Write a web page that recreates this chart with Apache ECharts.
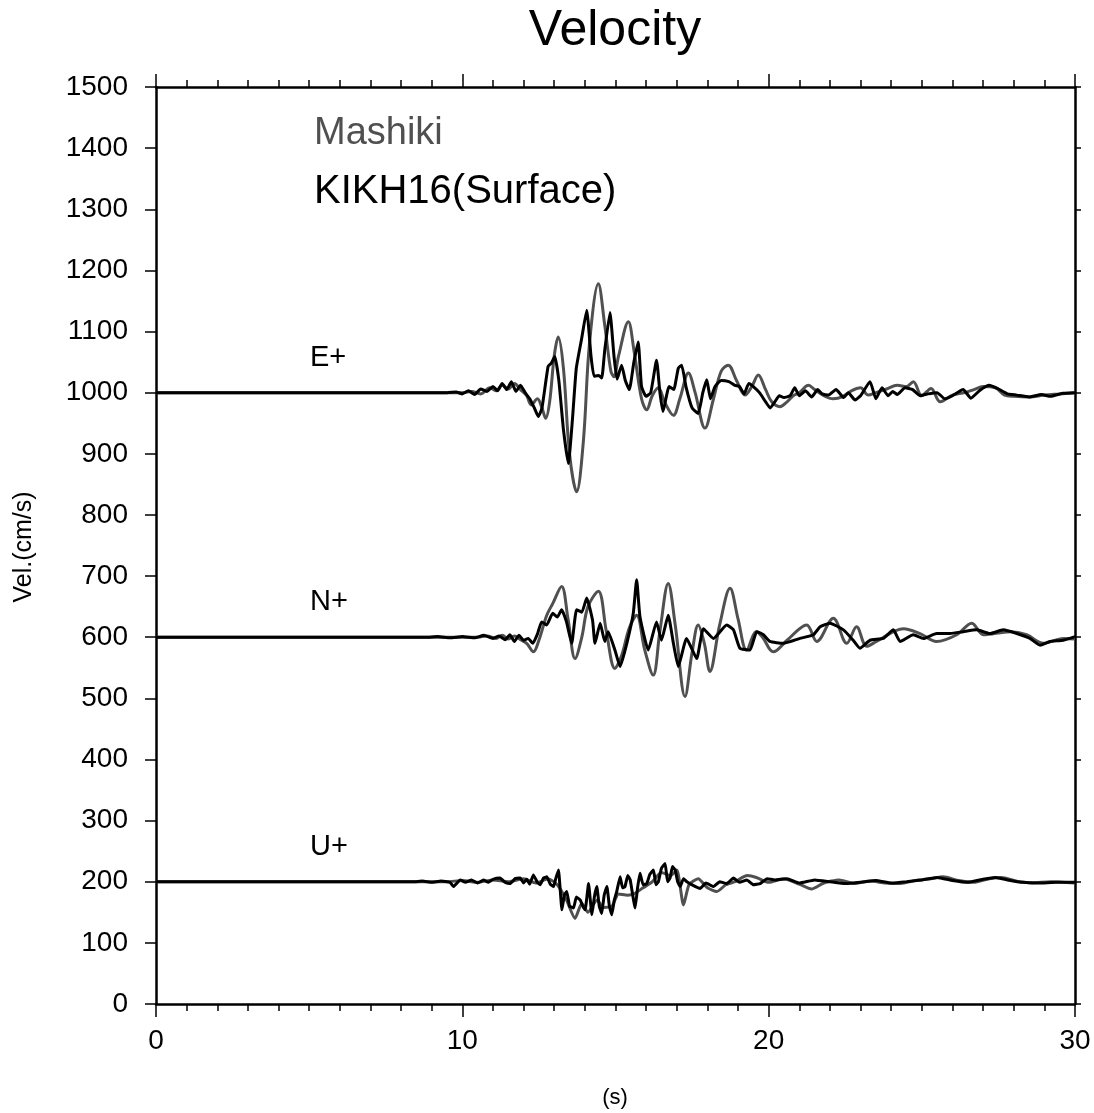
<!DOCTYPE html>
<html>
<head>
<meta charset="utf-8">
<script src="https://cdn.jsdelivr.net/npm/echarts@6/dist/echarts.min.js"></script>
<style>html,body{margin:0;padding:0;background:#fff;}#c{width:1094px;height:1113px;}</style>
</head>
<body>
<div id="c"></div>
<script>
// Time axis (s) and velocity axis (cm/s)
const X_TICKS = [0, 10, 20, 30];
const Y_TICKS = [0,100,200,300,400,500,600,700,800,900,1000,1100,1200,1300,1400,1500];
const COMPONENT_LABELS = [["E+", 1000], ["N+", 600], ["U+", 200]];
const STATIONS = ["Mashiki", "KIKH16(Surface)"];

// E component (offset +1000)
const E_MASHIKI = [[0,1000],[10.0,1000],[10.3,1002],[10.6,998],[10.9,1008],[11.1,1003],[11.3,1012],[11.5,1006],[11.7,1015],[11.9,1005],[12.1,995],[12.25,980],[12.45,990],[12.6,975],[12.72,958],[12.85,985],[13.0,1060],[13.13,1091],[13.3,1040],[13.5,900],[13.73,838],[13.95,920],[14.15,1080],[14.44,1178],[14.65,1110],[14.85,1035],[14.95,1026],[15.1,1060],[15.42,1116],[15.6,1070],[15.85,990],[16.02,972],[16.2,995],[16.4,1008],[16.6,985],[16.89,963],[17.1,990],[17.38,1032],[17.6,1000],[17.92,942],[18.2,990],[18.45,1035],[18.68,1045],[18.95,1020],[19.23,996],[19.45,1010],[19.66,1029],[19.9,1005],[20.1,985],[20.37,977],[20.6,985],[20.8,995],[21.0,1000],[21.3,1012],[21.5,1005],[21.8,995],[22.1,990],[22.4,993],[22.7,1003],[23.0,1008],[23.25,996],[23.5,1000],[23.85,1006],[24.2,1012],[24.5,1010],[24.72,1018],[25.0,995],[25.3,1007],[25.6,985],[26.0,996],[26.4,1000],[26.7,1005],[27.0,1010],[27.4,1008],[27.7,996],[28.0,994],[28.5,993],[29.0,996],[29.5,998],[30,1000]];
const E_KIKH16 = [[0,1000],[9.5,1000],[9.8,1001],[10.0,998],[10.2,1003],[10.4,997],[10.6,1006],[10.8,1002],[11.0,1010],[11.15,1003],[11.3,1015],[11.45,1005],[11.6,1018],[11.75,1002],[11.9,1012],[12.05,1000],[12.2,990],[12.35,975],[12.48,961],[12.6,975],[12.8,1043],[12.9,1048],[13.02,1059],[13.15,1020],[13.3,940],[13.46,884],[13.6,960],[13.72,1040],[13.9,1090],[14.06,1135],[14.2,1060],[14.3,1027],[14.45,1028],[14.55,1024],[14.65,1070],[14.82,1131],[14.95,1060],[15.05,1022],[15.2,1045],[15.32,1020],[15.45,1005],[15.6,1050],[15.74,1083],[15.85,1010],[16.0,994],[16.15,1000],[16.34,1053],[16.45,1000],[16.55,969],[16.75,1010],[16.9,1005],[17.05,1040],[17.16,1045],[17.3,1010],[17.5,975],[17.7,966],[17.85,1000],[17.98,1021],[18.1,990],[18.25,1010],[18.45,1020],[18.7,1018],[18.9,1012],[19.05,1010],[19.2,998],[19.35,1015],[19.5,1010],[19.7,1000],[19.9,985],[20.05,975],[20.2,985],[20.35,995],[20.5,992],[20.7,995],[20.85,1008],[21.0,995],[21.2,1003],[21.4,993],[21.6,1005],[21.75,998],[21.95,996],[22.2,1005],[22.45,992],[22.6,1000],[22.82,988],[23.0,995],[23.31,1018],[23.5,990],[23.7,1008],[23.9,995],[24.05,1002],[24.2,997],[24.45,1008],[24.7,1005],[24.95,995],[25.2,998],[25.5,1000],[25.75,990],[26.0,995],[26.35,1005],[26.6,991],[26.9,1004],[27.2,1012],[27.5,1006],[27.8,998],[28.1,996],[28.5,993],[28.9,997],[29.2,994],[29.6,999],[30,1000]];

// N component (offset +600)
const N_MASHIKI = [[0,600],[10.5,600],[10.8,602],[11.1,598],[11.3,603],[11.5,597],[11.7,602],[11.9,596],[12.1,590],[12.32,576],[12.5,595],[12.75,635],[12.95,655],[13.24,683],[13.45,630],[13.68,565],[13.9,600],[14.1,650],[14.44,675],[14.7,610],[14.98,549],[15.2,570],[15.45,615],[15.69,636],[15.95,580],[16.23,538],[16.45,610],[16.72,688],[16.95,620],[17.27,503],[17.5,575],[17.7,620],[17.9,590],[18.08,544],[18.4,620],[18.74,680],[19.0,630],[19.28,579],[19.6,609],[19.8,600],[20.15,576],[20.6,595],[21.24,620],[21.57,593],[22.11,631],[22.55,590],[22.87,617],[23.2,585],[23.52,593],[24.4,614],[24.94,606],[25.48,593],[26.14,604],[26.63,623],[27.01,604],[27.88,609],[28.42,604],[28.97,590],[29.62,598],[30,597]];
const N_KIKH16 = [[0,600],[8.8,600],[9.2,601],[9.6,599],[10.0,601],[10.4,599],[10.7,603],[11.0,598],[11.2,602],[11.4,596],[11.55,604],[11.7,593],[11.85,603],[12.0,595],[12.15,598],[12.3,590],[12.45,605],[12.59,625],[12.75,620],[12.95,639],[13.1,633],[13.24,645],[13.4,625],[13.57,590],[13.73,645],[13.9,641],[14.06,664],[14.25,628],[14.33,590],[14.5,623],[14.65,593],[14.76,609],[14.98,579],[15.15,552],[15.37,590],[15.58,639],[15.69,694],[15.8,633],[16.07,579],[16.34,625],[16.5,595],[16.72,636],[16.89,590],[17.05,552],[17.32,598],[17.65,565],[17.87,614],[18.2,598],[18.63,620],[18.85,612],[19.06,582],[19.39,579],[19.61,609],[19.83,604],[20.04,593],[20.48,590],[21.02,598],[21.46,604],[21.68,617],[22.0,623],[22.44,612],[22.76,595],[22.98,582],[23.31,595],[23.74,598],[24.07,612],[24.29,593],[24.72,604],[25.05,598],[25.48,606],[25.92,606],[26.35,609],[26.79,612],[27.22,606],[27.66,612],[28.1,606],[28.53,598],[28.86,587],[29.18,593],[29.62,595],[30,601]];

// U component (offset +200)
const U_MASHIKI = [[0,200],[9.5,200],[10,202],[10.5,199],[11,203],[11.5,200],[12,205],[12.4,198],[12.8,205],[13.1,195],[13.4,170],[13.68,140],[13.9,165],[14.1,150],[14.4,170],[14.6,158],[14.88,160],[15.1,180],[15.4,178],[15.6,180],[15.9,190],[16.2,200],[16.5,215],[16.8,210],[17.0,219],[17.22,162],[17.4,195],[17.7,205],[18.0,190],[18.31,184],[18.6,195],[18.9,200],[19.3,210],[19.6,207],[20,199],[20.5,205],[21.0,196],[21.4,188],[21.8,198],[22.3,203],[22.8,197],[23.3,201],[23.8,198],[24.3,197],[24.8,202],[25.3,205],[25.7,208],[26.2,202],[26.7,199],[27.2,205],[27.6,207],[28.1,201],[28.6,198],[29.2,200],[30,198]];
const U_KIKH16 = [[0,200],[8.4,200],[8.7,201],[9.0,199],[9.3,201],[9.6,199],[9.71,192],[9.93,203],[10.1,199],[10.3,203],[10.5,198],[10.69,203],[10.85,199],[11.0,204],[11.23,206],[11.4,199],[11.56,197],[11.72,205],[11.89,206],[12.0,198],[12.1,204],[12.2,196],[12.32,211],[12.45,199],[12.54,195],[12.65,206],[12.76,208],[12.87,196],[12.98,192],[13.05,205],[13.14,219],[13.25,154],[13.33,178],[13.41,184],[13.5,160],[13.63,157],[13.72,175],[13.85,170],[13.93,160],[14.01,154],[14.12,197],[14.23,146],[14.31,175],[14.39,192],[14.47,160],[14.55,148],[14.63,178],[14.72,192],[14.8,160],[14.88,146],[14.96,170],[15.04,184],[15.15,208],[15.23,190],[15.31,192],[15.4,210],[15.48,203],[15.64,157],[15.72,190],[15.8,214],[15.9,195],[16.02,197],[16.12,212],[16.24,219],[16.32,195],[16.4,200],[16.5,222],[16.62,230],[16.7,200],[16.78,206],[16.86,225],[16.95,219],[17.03,200],[17.11,192],[17.22,205],[17.33,200],[17.5,195],[17.76,189],[17.95,198],[18.2,192],[18.4,200],[18.63,197],[18.85,206],[19.05,199],[19.29,203],[19.5,195],[19.72,197],[19.95,205],[20.2,203],[20.6,205],[21.0,198],[21.5,203],[22.0,200],[22.5,197],[23.0,199],[23.5,202],[24.0,198],[24.5,200],[25.0,203],[25.5,207],[26.0,202],[26.5,199],[27.0,204],[27.4,207],[27.8,203],[28.3,199],[28.8,198],[29.4,199],[30,199]];

const GRAY = '#505050';
const BLACK = '#000000';
const FONT = '"Liberation Sans", Arial, sans-serif';

const chart = echarts.init(document.getElementById('c'), null, {renderer: 'canvas'});

const axisX = (pos, showLabel) => ({
  type: 'value', position: pos, min: X_TICKS[0], max: X_TICKS[X_TICKS.length - 1],
  interval: X_TICKS[1] - X_TICKS[0],
  axisLine: {show: true, onZero: false, lineStyle: {color: '#000', width: 2.5}},
  axisTick: {show: true, inside: false, length: 13, lineStyle: {color: '#000', width: 1.5}},
  minorTick: {show: true, splitNumber: 10, length: 7, lineStyle: {color: '#000', width: 1.5}},
  splitLine: {show: false}, minorSplitLine: {show: false},
  axisLabel: {show: showLabel, fontSize: 28, fontFamily: FONT, color: '#000', margin: 23, formatter: v => String(v)}
});
const axisY = (pos, showLabel, tickLen) => ({
  type: 'value', position: pos, min: Y_TICKS[0], max: Y_TICKS[Y_TICKS.length - 1],
  interval: Y_TICKS[1] - Y_TICKS[0],
  axisLine: {show: true, onZero: false, lineStyle: {color: '#000', width: 2.5}},
  axisTick: {show: true, inside: false, length: tickLen, lineStyle: {color: '#000', width: 1.5}},
  splitLine: {show: false},
  axisLabel: {show: showLabel, fontSize: 28, fontFamily: FONT, color: '#000', margin: 28, formatter: v => String(v)}
});

const mk = (name, data, color, smooth, z) => ({
  name, type: 'line', data, showSymbol: false, smooth, z,
  lineStyle: {color, width: 3}, xAxisIndex: 0, yAxisIndex: 0, silent: true
});

const graphics = [
  {type: 'text', style: {text: 'Velocity', x: 615, y: 31, font: '50px ' + FONT, fill: '#000', textAlign: 'center', textVerticalAlign: 'middle'}},
  {type: 'text', style: {text: STATIONS[0], x: 314, y: 134, font: '38px ' + FONT, fill: GRAY, textAlign: 'left', textVerticalAlign: 'middle'}},
  {type: 'text', style: {text: STATIONS[1], x: 314, y: 192, font: '40px ' + FONT, fill: '#000', textAlign: 'left', textVerticalAlign: 'middle'}},
  {type: 'text', style: {text: '(s)', x: 615, y: 1098, font: '22px ' + FONT, fill: '#000', textAlign: 'center', textVerticalAlign: 'middle'}},
  {type: 'text', rotation: Math.PI / 2, x: 24, y: 547, style: {text: 'Vel.(cm/s)', x: 0, y: 0, font: '25px ' + FONT, fill: '#000', textAlign: 'center', textVerticalAlign: 'middle'}}
];

chart.setOption({
  animation: false,
  backgroundColor: '#fff',
  grid: {left: 156, right: 19, top: 87, bottom: 109, containLabel: false},
  xAxis: [axisX('bottom', true), axisX('top', false)],
  yAxis: [axisY('left', true, 11), axisY('right', false, 6)],
  series: [
    mk('E Mashiki', E_MASHIKI, GRAY, 0.35, 2),
    mk('N Mashiki', N_MASHIKI, GRAY, 0.35, 2),
    mk('U Mashiki', U_MASHIKI, GRAY, 0.2, 2),
    mk('E KIKH16', E_KIKH16, BLACK, 0.15, 3),
    mk('N KIKH16', N_KIKH16, BLACK, 0.15, 3),
    mk('U KIKH16', U_KIKH16, BLACK, 0.1, 3)
  ],
  graphic: graphics
});

// Component labels positioned via the chart's own scale
const labelGraphics = COMPONENT_LABELS.map(([txt, base]) => {
  const p = chart.convertToPixel({xAxisIndex: 0, yAxisIndex: 0}, [5, base]);
  return {type: 'text', style: {text: txt, x: 310, y: p[1] - 35, font: '29px ' + FONT, fill: '#000', textAlign: 'left', textVerticalAlign: 'middle'}};
});
chart.setOption({graphic: graphics.concat(labelGraphics)});
</script>
</body>
</html>
